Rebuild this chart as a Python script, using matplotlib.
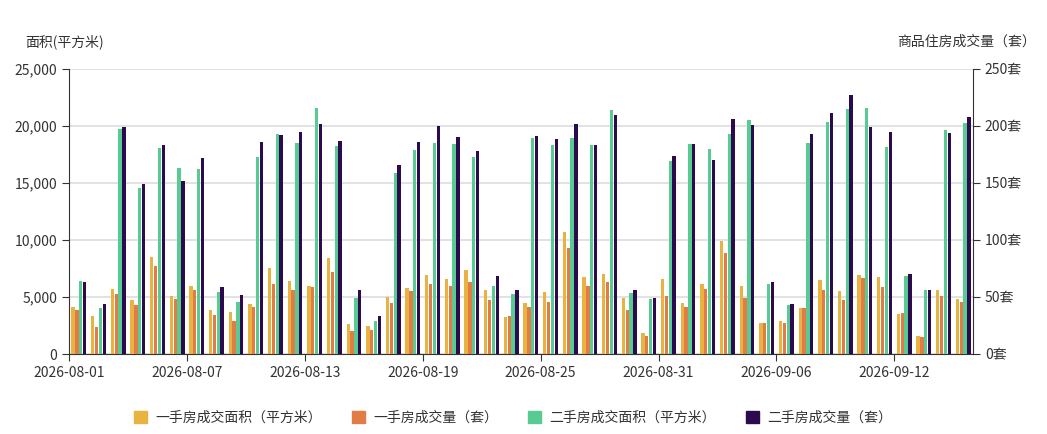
import numpy as np
import matplotlib
matplotlib.use('Agg')
import matplotlib.pyplot as plt
from matplotlib.ticker import FuncFormatter
import datetime as dt

plt.rcParams['font.family'] = ['Noto Sans CJK SC', 'DejaVu Sans']

start = dt.date(2026, 8, 1)
dates = [(start + dt.timedelta(days=i)).strftime('%Y-%m-%d') for i in range(46)]

# 一手房成交面积（平方米）
new_area = [4090, 3300, 5700, 4710, 8540, 5060, 5940, 3830, 3680, 4420, 7570, 6430,
            5990, 8390, 2660, 2430, 5030, 5760, 6900, 6610, 7340, 5580, 3250, 4440,
            5470, 10730, 6750, 7020, 4940, 1870, 6610, 4450, 6130, 9880, 5990, 2730,
            2910, 4040, 6510, 5490, 6950, 6720, 3520, 1570, 5580, 4800]
# 一手房成交量（套）
new_units = [39, 24, 53, 43, 77, 48, 56, 34, 29, 41, 61, 56,
             59, 72, 20, 21, 45, 55, 61, 60, 63, 47, 33, 41,
             46, 93, 60, 63, 39, 16, 51, 41, 57, 89, 49, 27,
             27, 40, 56, 47, 67, 59, 36, 15, 51, 46]
# 二手房成交面积（平方米）
old_area = [6370, 4040, 19710, 14530, 18040, 16350, 16230, 5410, 4590, 17250, 19330, 18480,
            21550, 18220, 4880, 2920, 15880, 17870, 18480, 18390, 17310, 5940, 5260, 18950,
            18330, 18980, 18330, 21400, 5320, 4820, 16900, 18400, 17940, 19270, 20490, 6130,
            4270, 18490, 20350, 21510, 21600, 18200, 6830, 5610, 19680, 20290]
# 二手房成交量（套）
old_units = [63, 44, 199, 149, 183, 152, 172, 59, 52, 186, 192, 195,
             202, 187, 56, 33, 166, 186, 200, 190, 178, 68, 56, 191,
             189, 202, 183, 210, 56, 49, 174, 184, 170, 206, 201, 63,
             44, 193, 211, 227, 199, 195, 70, 56, 194, 208]

c_new_area = '#E9B342'
c_new_units = '#E27B45'
c_old_area = '#57CB91'
c_old_units = '#2B0A4D'

fig = plt.figure(figsize=(10.47, 4.34), dpi=100)
ax = fig.add_axes([69/1047, 1-354/434, (973-69)/1047, (354-69)/434])
ax2 = ax.twinx()

x = np.arange(len(dates)) + 0.5
w = 0.17
step = 0.195
ax.bar(x - 1.5*step, new_area, w, color=c_new_area, zorder=3)
ax2.bar(x - 0.5*step, new_units, w, color=c_new_units, zorder=3)
ax.bar(x + 0.5*step, old_area, w, color=c_old_area, zorder=3)
ax2.bar(x + 1.5*step, old_units, w, color=c_old_units, zorder=3)

ax.set_xlim(0, len(dates))
ax.set_ylim(0, 25000)
ax2.set_ylim(0, 250)
ax.set_yticks(range(0, 25001, 5000))
ax2.set_yticks(range(0, 251, 50))
ax.yaxis.set_major_formatter(FuncFormatter(lambda v, p: f'{int(v):,}'))
ax2.yaxis.set_major_formatter(FuncFormatter(lambda v, p: f'{int(v)}套'))
ax.set_xticks(range(0, len(dates), 6))
ax.set_xticklabels(dates[::6])
ax.yaxis.grid(True, color='#dddddd', linewidth=1.2, zorder=0)
ax.set_axisbelow(True)

for a in (ax, ax2):
    a.spines['top'].set_visible(False)
    for s in ('left', 'right', 'bottom'):
        a.spines[s].set_color('#333333')
    a.tick_params(colors='#333333', labelsize=10, length=5)
ax.spines['right'].set_visible(False)
ax2.spines['left'].set_visible(False)
ax2.spines['bottom'].set_visible(False)

fig.text(25/1047, 1-42/434, '面积(平方米)', fontsize=10, color='#333333', va='center')
fig.text(1036/1047, 1-42/434, '商品住房成交量（套）', fontsize=10, color='#333333', va='center', ha='right')

labels = ['一手房成交面积（平方米）', '一手房成交量（套）', '二手房成交面积（平方米）', '二手房成交量（套）']
colors = [c_new_area, c_new_units, c_old_area, c_old_units]
handles = [plt.Rectangle((0, 0), 1, 1, color=c) for c in colors]
fig.legend(handles, labels, loc='center', bbox_to_anchor=(0.49, 1-418/434), ncol=4,
           frameon=False, fontsize=10, handlelength=0.9, handleheight=0.9,
           columnspacing=2.2, handletextpad=0.6, labelcolor='#333333')

fig.savefig('out.png', dpi=100)
